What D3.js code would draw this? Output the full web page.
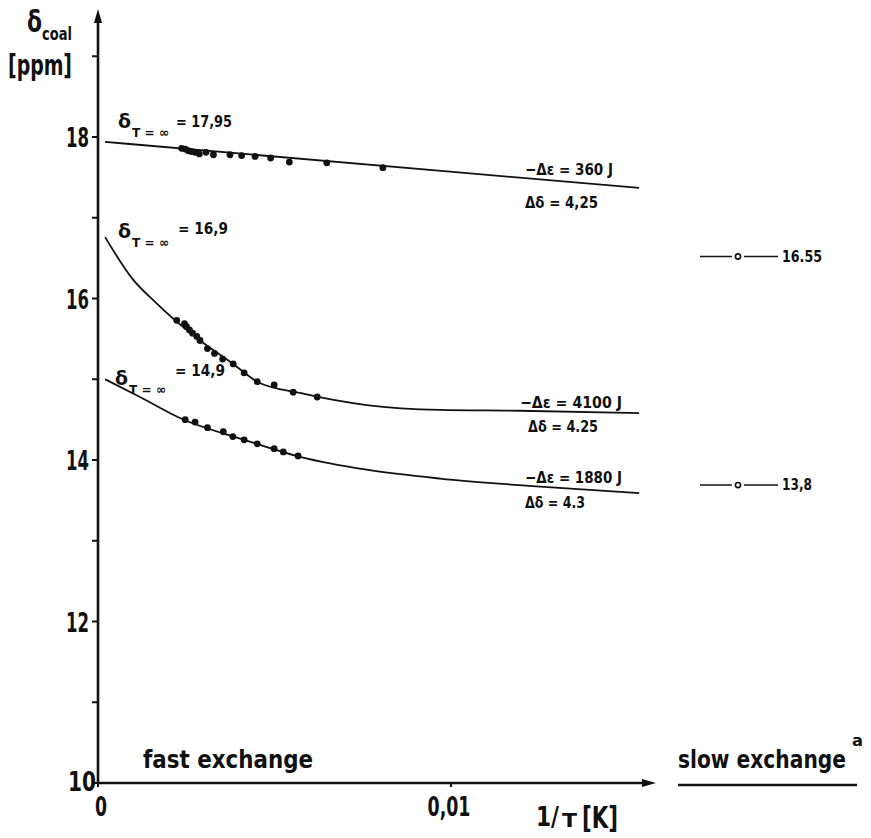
<!DOCTYPE html>
<html lang="en">
<head>
<meta charset="UTF-8">
<title>delta coal vs 1/T</title>
<style>
  body { margin: 0; background: #fff; }
  svg { display: block; }
  text { font-family: "DejaVu Sans", "Liberation Sans", sans-serif; font-weight: bold; fill: #111; }
  .curve { fill: none; stroke: #111; stroke-width: 1.8px; }
  .axis-line { stroke: #111; stroke-width: 2.6px; fill: none; }
</style>
</head>
<body>
<svg width="871" height="838"></svg>
<script src="https://d3js.org/d3.v7.min.js"></script>
<script>
// tick values / labels
var yMajor = [10, 12, 14, 16, 18],
    yMinor = [11, 13, 15, 17, 19],
    xTicks = [0, 0.01],
    xTickLabels = ["0", "0,01"];

// fitted curves
var curveTop = [[0.0002, 17.94], [0.00997, 17.57], [0.01533, 17.37]];
var curveMid = [[0.0002, 16.76], [0.0010, 16.23], [0.00166, 15.94], [0.00213, 15.75], [0.00289, 15.48],
                [0.00383, 15.19], [0.00451, 14.97], [0.00572, 14.83], [0.00761, 14.68], [0.00969, 14.62],
                [0.01195, 14.61], [0.01533, 14.58]];
var curveBot = [[0.0002, 15.0], [0.00119, 14.78], [0.00232, 14.52], [0.00414, 14.25], [0.00572, 14.04],
                [0.00761, 13.88], [0.00969, 13.77], [0.0122, 13.68], [0.01533, 13.59]];

// measured points
var dotsTop = [[0.00237, 17.86], [0.00247, 17.85], [0.00256, 17.83], [0.00265, 17.82], [0.00275, 17.81],
               [0.00287, 17.79], [0.00306, 17.81], [0.00327, 17.78], [0.00374, 17.78], [0.00407, 17.77],
               [0.00445, 17.76], [0.00489, 17.74], [0.00542, 17.69], [0.00648, 17.68], [0.00807, 17.62]];
var dotsMid = [[0.00223, 15.73], [0.00245, 15.69], [0.00251, 15.65], [0.00259, 15.61], [0.00268, 15.57],
               [0.00280, 15.53], [0.00289, 15.48], [0.00310, 15.38], [0.00330, 15.32], [0.00353, 15.25],
               [0.00383, 15.19], [0.00414, 15.08], [0.00451, 14.97], [0.00499, 14.93], [0.00553, 14.84],
               [0.00621, 14.78]];
var dotsBot = [[0.00247, 14.50], [0.00275, 14.47], [0.00310, 14.40], [0.00355, 14.35], [0.00382, 14.29],
               [0.00414, 14.25], [0.00451, 14.20], [0.00499, 14.14], [0.00525, 14.10], [0.00567, 14.05]];

// slow exchange values
var slowX = 0.01813,
    slowValues = [16.52, 13.69],
    slowLabels = ["16.55", "13,8"];

// curve annotations
var deltaInf = ["= 17,95", "= 16,9", "= 14,9"],
    dEps = ["\u2212\u0394\u03B5 = 360 J", "\u2212\u0394\u03B5 = 4100 J", "\u2212\u0394\u03B5 = 1880 J"],
    dDelta = ["\u0394\u03B4 = 4,25", "\u0394\u03B4 = 4.25", "\u0394\u03B4 = 4.3"];

var svg = d3.select("svg");

var x = d3.scaleLinear().domain([0, 0.01]).range([98, 451]),
    y = d3.scaleLinear().domain([10, 18]).range([783, 137]);

function txt(str, px, py, size, len, anchor) {
  var t = svg.append("text")
      .attr("x", px).attr("y", py)
      .style("font-size", size + "px")
      .attr("text-anchor", anchor || "start")
      .text(str);
  if (len) t.attr("textLength", len).attr("lengthAdjust", "spacingAndGlyphs");
  return t;
}

// one text with several pieces: [str, x, y, size, len]
function multi(parts) {
  var t = svg.append("text");
  parts.forEach(function (p) {
    t.append("tspan")
        .attr("x", p[1]).attr("y", p[2])
        .style("font-size", p[3] + "px")
        .attr("textLength", p[4]).attr("lengthAdjust", "spacingAndGlyphs")
        .text(p[0]);
  });
  return t;
}

// y axis
svg.append("line").attr("class", "axis-line")
    .attr("x1", x(0)).attr("x2", x(0)).attr("y1", y(10) + 1).attr("y2", 20);
svg.append("path").attr("d", "M" + x(0) + ",9 L" + (x(0) - 4) + ",23 L" + (x(0) + 4) + ",23 Z").attr("fill", "#111");

svg.selectAll(".ytick").data(yMajor.concat(yMinor)).enter().append("line")
    .attr("x1", x(0) - 6).attr("x2", x(0))
    .attr("y1", function (d) { return y(d); }).attr("y2", function (d) { return y(d); })
    .attr("stroke", "#111").attr("stroke-width", 2);

yMajor.forEach(function (v) {
  if (v === 10) txt("10", 96, y(v) + 8, 26, 28, "end");
  else txt(String(v), 89, y(v) + 10, 27, 23, "end");
});

// x axis
svg.append("line").attr("class", "axis-line")
    .attr("x1", x(0) - 1).attr("x2", 645).attr("y1", y(10)).attr("y2", y(10));
svg.append("path").attr("d", "M656," + y(10) + " L642," + (y(10) - 4) + " L642," + (y(10) + 4) + " Z").attr("fill", "#111");
xTicks.forEach(function (v, i) {
  svg.append("line").attr("x1", x(v)).attr("x2", x(v)).attr("y1", y(10)).attr("y2", y(10) + 4)
      .attr("stroke", "#111").attr("stroke-width", 2);
  if (i === 0) txt(xTickLabels[i], x(v) + 3, 816, 26, 12, "middle");
  else txt(xTickLabels[i], x(v) - 2, 816, 26, 43, "middle");
});

// axis titles
multi([["\u03B4", 27, 32, 30, 15], ["coal", 42, 40, 18, 30]]);
txt("[ppm]", 8, 75, 28, 64);
multi([["1/", 536, 826, 27, 23], ["T", 562, 827, 20, 15], ["[K]", 582, 828, 30, 36]]);

txt("fast exchange", 143, 768, 25, 170);
multi([["slow exchange", 678, 768, 25, 168], ["a", 852, 746, 16, 11]]);
svg.append("line").attr("class", "axis-line")
    .attr("x1", 678).attr("x2", 857).attr("y1", 785).attr("y2", 785);

// curves
var line = d3.line()
    .x(function (d) { return x(d[0]); })
    .y(function (d) { return y(d[1]); })
    .curve(d3.curveMonotoneX);

[curveTop, curveMid, curveBot].forEach(function (c) {
  svg.append("path").datum(c).attr("class", "curve").attr("d", line);
});

// dots
[dotsTop, dotsMid, dotsBot].forEach(function (ds) {
  svg.append("g").selectAll("circle").data(ds).enter().append("circle")
      .attr("cx", function (d) { return x(d[0]); })
      .attr("cy", function (d) { return y(d[1]); })
      .attr("r", 3.4)
      .attr("fill", "#111");
});

// delta(T=inf) labels
var infPos = [[118, 128, 176, 127], [118, 238, 178, 234], [115, 385, 175, 376]];
infPos.forEach(function (p, i) {
  multi([["\u03B4", p[0], p[1], 19, 13],
         ["T = \u221E", p[0] + 14, p[1] + 9, 13, 37],
         [deltaInf[i], p[2], p[3], 16, i === 0 ? 56 : 50]]);
});

// energy annotations
var annPos = [[525, 175, 88, 525, 208, 73], [520, 408, 102, 528, 432, 70], [525, 483, 97, 525, 508, 60]];
annPos.forEach(function (p, i) {
  txt(dEps[i], p[0], p[1], 16, p[2]);
  txt(dDelta[i], p[3], p[4], 16, p[5]);
});

// slow exchange points
slowValues.forEach(function (v, i) {
  var cx = x(slowX), cy = y(v);
  svg.append("line").attr("x1", cx - 38).attr("x2", cx - 6).attr("y1", cy).attr("y2", cy)
      .attr("stroke", "#111").attr("stroke-width", 1.5);
  svg.append("line").attr("x1", cx + 6).attr("x2", cx + 40).attr("y1", cy).attr("y2", cy)
      .attr("stroke", "#111").attr("stroke-width", 1.5);
  svg.append("circle").attr("cx", cx).attr("cy", cy).attr("r", 2.6)
      .attr("fill", "#fff").attr("stroke", "#111").attr("stroke-width", 1.6);
  txt(slowLabels[i], cx + 44, cy + 5, 16, i === 0 ? 40 : 30);
});
</script>
</body>
</html>
